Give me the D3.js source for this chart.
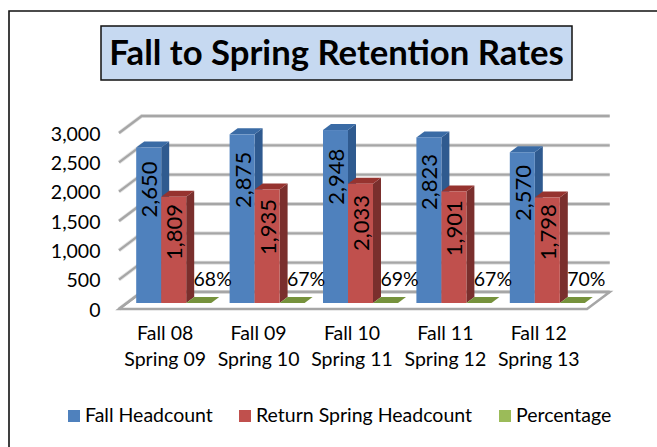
<!DOCTYPE html>
<html>
<head>
<meta charset="utf-8">
<script src="https://cdn.jsdelivr.net/npm/d3@7"></script>
<style>
  html, body { margin: 0; padding: 0; background: #fff; }
  text { font-family: Lato, "Open Sans", sans-serif; fill: #000; }
</style>
</head>
<body>
<div id="content"></div>
<script>
const categories = ['Fall 08|Spring 09', 'Fall 09|Spring 10', 'Fall 10|Spring 11', 'Fall 11|Spring 12', 'Fall 12|Spring 13']
const fallHeadcount = [2650, 2875, 2948, 2823, 2570]
const returnHeadcount = [1809, 1935, 2033, 1901, 1798]
const percentage = [68, 67, 69, 67, 70]
const yTicks = [0, 500, 1000, 1500, 2000, 2500, 3000]
const seriesNames = ['Fall Headcount', 'Return Spring Headcount', 'Percentage']

const width = 657
const height = 447
const labelSize = 19.5
// 3d offsets: whole floor depth, and the depth of one bar
const depth = { x: 22.7, y: -17 }
const barDepth = { x: 8, y: -6 }

const svg = d3.select('#content')
    .append('svg')
    .attr('width', width)
    .attr('height', height)
    .style('display', 'block')

// outer frame (no right side, it runs off the picture) and title
svg.append('path')
    .attr('d', `M9,${height} V11 H${width}`)
    .attr('fill', 'none')
    .attr('stroke', '#111')
    .attr('stroke-width', 1.6)

svg.append('rect')
    .attr('x', 101).attr('y', 26)
    .attr('width', 471).attr('height', 54)
    .attr('fill', '#c6d9f1')
    .attr('stroke', '#111')
    .attr('stroke-width', 1.5)

svg.append('text')
    .text('Fall to Spring Retention Rates')
    .attr('x', 336.5).attr('y', 65)
    .attr('text-anchor', 'middle')
    .attr('font-weight', 'bold')
    .attr('font-size', 34.7)

const x0 = d3.scaleBand()
    .domain(categories)
    .range([127, 594])
    .paddingInner(0.197)
    .paddingOuter(0.0985)

const x1 = d3.scaleBand()
    .domain(d3.range(3))
    .range([0, x0.bandwidth()])

// y scale sits on the front of the bars
const yBar = d3.scaleLinear().domain([0, 3000]).range([303, 127])
const yFront = d3.scaleLinear().domain([0, 3000]).range([309, 133])

// Setup floor and grid
const grid = svg.append('g').attr('id', 'grid')
const gridColor = '#a6a6a6'

const gridPoints = d => `119,${yFront(d)} ${119 + depth.x},${yFront(d) + depth.y} ${587 + depth.x},${yFront(d) + depth.y}`

// soft halo under the grid lines
grid.selectAll('polyline.halo')
    .data(yTicks)
    .join('polyline')
    .attr('class', 'halo')
    .attr('points', gridPoints)
    .attr('fill', 'none')
    .attr('stroke', '#e4e4e4')
    .attr('stroke-width', 4)

grid.append('path')
    .attr('d', `M119,${yFront(0)} L${119 + depth.x},${yFront(0) + depth.y} H${587 + depth.x} L587,${yFront(0)} Z`)
    .attr('fill', '#fff')
    .attr('stroke', gridColor)
    .attr('stroke-width', 2.5)

grid.selectAll('polyline.line')
    .data(yTicks)
    .join('polyline')
    .attr('class', 'line')
    .attr('points', gridPoints)
    .attr('fill', 'none')
    .attr('stroke', gridColor)
    .attr('stroke-width', 2.3)

const yAxis = svg.append('g')
    .attr('transform', 'translate(100.5,1)')
    .call(d3.axisLeft(yFront).tickValues(yTicks).tickSize(0).tickPadding(0).tickFormat(d3.format(',')))
yAxis.select('.domain').remove()
yAxis.selectAll('text').attr('font-size', labelSize).attr('font-family', 'Lato')

// Setup Bars
const barSeries = [
    { values: fallHeadcount, front: '#4f81bd', side: '#2f5a8f', top: '#3a6ba5', labelAt: 0.73 },
    { values: returnHeadcount, front: '#c0504d', side: '#7a2f2d', top: '#96332f', labelAt: 0.67 }
]

const barData = barSeries.flatMap((s, si) => s.values.map((v, i) => ({
    x: x0(categories[i]) + x1(si),
    w: x1.bandwidth(),
    y: yBar(v),
    b: yBar(0),
    v,
    s
})))

const bars = svg.append('g').attr('id', 'bars')
    .selectAll('g')
    .data(barData)
    .join('g')

bars.append('path')
    .attr('fill', d => d.s.side)
    .attr('d', d => `M${d.x + d.w},${d.y} l${barDepth.x},${barDepth.y} V${d.b + barDepth.y} L${d.x + d.w},${d.b} Z`)
bars.append('path')
    .attr('fill', d => d.s.top)
    .attr('d', d => `M${d.x},${d.y} l${barDepth.x},${barDepth.y} h${d.w} l${-barDepth.x},${-barDepth.y} Z`)
bars.append('rect')
    .attr('fill', d => d.s.front)
    .attr('x', d => d.x)
    .attr('y', d => d.y)
    .attr('width', d => d.w)
    .attr('height', d => d.b - d.y)

bars.append('text')
    .text(d => d3.format(',')(d.v))
    .attr('font-size', 22)
    .attr('text-anchor', 'middle')
    .attr('dominant-baseline', 'central')
    .attr('transform', d => `translate(${d.x + d.w / 2},${yBar(d.v * d.s.labelAt)}) rotate(-90)`)

// Percentage series lies flat on the floor
const pct = svg.append('g').attr('id', 'percentage')
    .selectAll('g')
    .data(percentage)
    .join('g')

pct.append('path')
    .attr('fill', '#76923c')
    .attr('d', (d, i) => {
        const x = x0(categories[i]) + x1(2)
        return `M${x},${yBar(0)} l${barDepth.x},${barDepth.y} h${x1.bandwidth()} l${-barDepth.x},${-barDepth.y} Z`
    })

pct.append('text')
    .text(d => `${d}%`)
    .attr('font-size', labelSize)
    .attr('text-anchor', 'middle')
    .attr('x', (d, i) => x0(categories[i]) + x1(2) + x1.bandwidth() / 2 + 14)
    .attr('y', 286)

// Category labels
const catLabels = svg.append('g').attr('id', 'categories')
    .selectAll('text')
    .data(categories)
    .join('text')
    .attr('font-size', labelSize)
    .attr('text-anchor', 'middle')
    .attr('x', d => x0(d) + x0.bandwidth() / 2 - 8.5)

catLabels.selectAll('tspan')
    .data(d => d.split('|'))
    .join('tspan')
    .attr('x', function () { return d3.select(this.parentNode).attr('x') })
    .attr('y', (d, i) => 340 + i * 26)
    .text(d => d)

// Setup Legend
const legendColors = ['#4f81bd', '#c0504d', '#9bbb59']
const legendX = [68, 239, 499]
const legend = svg.append('g').attr('id', 'legend')
    .selectAll('g')
    .data(seriesNames)
    .join('g')
    .attr('transform', (d, i) => `translate(${legendX[i]},410)`)

legend.append('rect')
    .attr('width', 12).attr('height', 12)
    .attr('fill', (d, i) => legendColors[i])

legend.append('text')
    .text(d => d)
    .attr('x', 17).attr('y', 12)
    .attr('font-size', labelSize)
</script>
</body>
</html>
